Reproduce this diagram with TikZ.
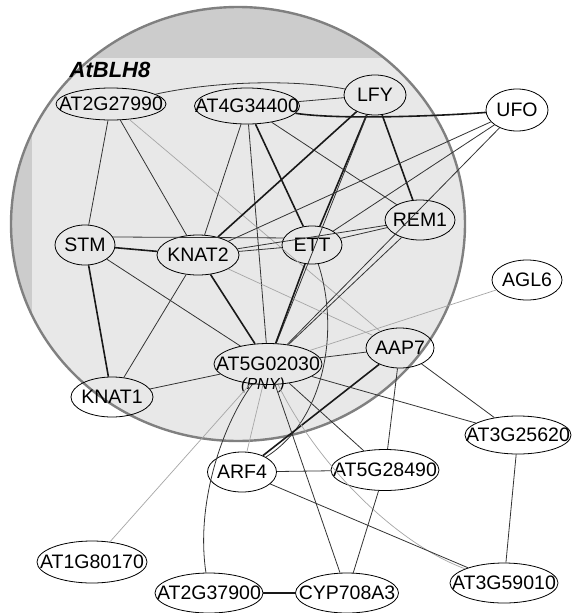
\documentclass[tikz,border=0pt]{standalone}
\usepackage{fontspec}
\setmainfont{Liberation Sans}
\usetikzlibrary{shapes.geometric}
\newcommand{\gname}[1]{\makebox[0pt]{#1}}

\begin{document}
\begin{tikzpicture}[x=1pt, y=-1pt,
    gene/.style={ellipse, draw=black, line width=0.8pt, inner sep=0pt,
      minimum height=40pt, font=\fontsize{19.5}{21}\selectfont},
    lnk/.style={draw=black!80, line width=0.8pt},
    lnkthick/.style={draw=black!90, line width=1.6pt},
    lnkgray/.style={draw=black!35, line width=0.7pt}]
    \useasboundingbox (0,0) rectangle (572,613);
    % AtBLH8 complex
    \fill[white] (0,0) rectangle (572,613);
    \fill[black!20] (238,224) ellipse [x radius=227pt, y radius=217pt];
    \fill[white, opacity=0.55] (32,58) rectangle (572,613);
    \draw[black!50, line width=2.4pt] (238,224) ellipse [x radius=227pt, y radius=217pt];
    \node[font=\fontsize{22}{22}\selectfont\bfseries\itshape, inner sep=0pt] (blh8) at (110,70) {AtBLH8};

    % genes
    \node[gene, minimum width=110pt, minimum height=32pt] (g27990) at (111,104) {\gname{AT2G27990}};
    \node[gene, minimum width=105pt, minimum height=36pt] (g34400) at (247,106) {\gname{AT4G34400}};
    \node[gene, minimum width=62pt] (lfy) at (375,95) {\gname{LFY}};
    \node[gene, minimum width=62pt, minimum height=42pt] (ufo) at (517,110) {\gname{UFO}};
    \node[gene, minimum width=60pt] (stm) at (85,245) {\gname{STM}};
    \node[gene, minimum width=82pt] (knat2) at (198,255) {\gname{KNAT2}};
    \node[gene, minimum width=60pt, minimum height=38pt] (ett) at (312,245) {\gname{ETT}};
    \node[gene, minimum width=70pt] (rem1) at (420,220) {\gname{REM1}};
    \node[gene, minimum width=70pt] (agl6) at (527,280) {\gname{AGL6}};
    \node[gene, minimum width=68pt] (aap7) at (400,348) {\gname{AAP7}};
    \node[gene, minimum width=108pt, minimum height=41pt] (pny) at (268,364) {\gname{AT5G02030}};
    \node[font=\fontsize{16}{16}\selectfont\itshape, inner sep=0pt] (pnytag) at (263,385) {(PNY)};
    \node[gene, minimum width=82pt] (knat1) at (112,397) {\gname{KNAT1}};
    \node[gene, minimum width=106pt, minimum height=38pt] (g25620) at (518,435) {\gname{AT3G25620}};
    \node[gene, minimum width=108pt, minimum height=41pt] (g28490) at (385,470) {\gname{AT5G28490}};
    \node[gene, minimum width=69pt] (arf4) at (242,472) {\gname{ARF4}};
    \node[gene, minimum width=110pt, minimum height=42pt] (g80170) at (92,562) {\gname{AT1G80170}};
    \node[gene, minimum width=108pt] (g37900) at (209,593) {\gname{AT2G37900}};
    \node[gene, minimum width=103pt] (cyp) at (347,593) {\gname{CYP708A3}};
    \node[gene, minimum width=108pt] (g59010) at (504,583) {\gname{AT3G59010}};

    % interactions
    \draw[lnk] (g27990) .. controls (220,80) and (300,80) .. (lfy);
    \draw[lnk] (g27990) -- (stm);
    \draw[lnk] (g27990) -- (knat2);
    \draw[lnkgray] (g27990) -- (aap7);
    \draw[lnk] (g34400) -- (lfy);
    \draw[lnkthick] (g34400) .. controls (340,120) and (440,116) .. (ufo);
    \draw[lnk] (g34400) -- (knat2);
    \draw[lnk] (g34400) -- (pny);
    \draw[lnkthick] (g34400) -- (ett);
    \draw[lnk] (g34400) -- (rem1);
    \draw[lnkthick] (lfy) -- (knat2);
    \draw[lnkthick] (lfy) -- (ett);
    \draw[lnkthick] (lfy) -- (rem1);
    \draw[lnk] (lfy) -- (pny);
    \draw[lnk] (ufo) -- (knat2);
    \draw[lnk] (ufo) -- (ett);
    \draw[lnk] (ufo) -- (pny);
    \draw[lnk] (rem1) -- (knat2);
    \draw[lnk] (rem1) -- (ett);
    \draw[lnk] (rem1) -- (pny);
    \draw[lnk] (stm.16) -- (ett.166);
    \draw[lnkthick] (stm) -- (knat2);
    \draw[lnkthick] (stm) -- (knat1);
    \draw[lnk] (stm) -- (pny);
    \draw[lnk] (knat2) -- (knat1);
    \draw[lnkthick] (knat2) -- (pny);
    \draw[lnk] (knat2) -- (ett);
    \draw[lnkgray] (knat2) -- (aap7);
    \draw[lnk] (knat1) -- (pny);
    \draw[lnkthick] (ett) -- (pny);
    \draw[lnk] (ett) .. controls (340,330) and (325,420) .. (arf4);
    \draw[lnk] (pny) -- (aap7);
    \draw[lnkgray] (agl6) -- (pny);
    \draw[lnkthick] (aap7) -- (arf4);
    \draw[lnk] (aap7) -- (g28490);
    \draw[lnk] (aap7) -- (g25620);
    \draw[lnk] (pny) -- (g25620);
    \draw[lnk] (pny) -- (g28490);
    \draw[lnk] (pny) -- (cyp);
    \draw[lnkgray] (pny) -- (arf4);
    \draw[lnkgray] (pny) -- (g80170);
    \draw[lnkgray] (pny) .. controls (320,470) and (400,545) .. (g59010);
    \draw[lnk] (g37900) .. controls (195,500) and (225,420) .. (pny);
    \draw[lnk] (arf4) -- (g28490);
    \draw[lnk] (arf4) -- (g59010);
    \draw[lnk] (g28490) -- (cyp);
    \draw[lnk] (g25620) -- (g59010);
    \draw[lnkthick] (g37900) -- (cyp);
\end{tikzpicture}
\end{document}
